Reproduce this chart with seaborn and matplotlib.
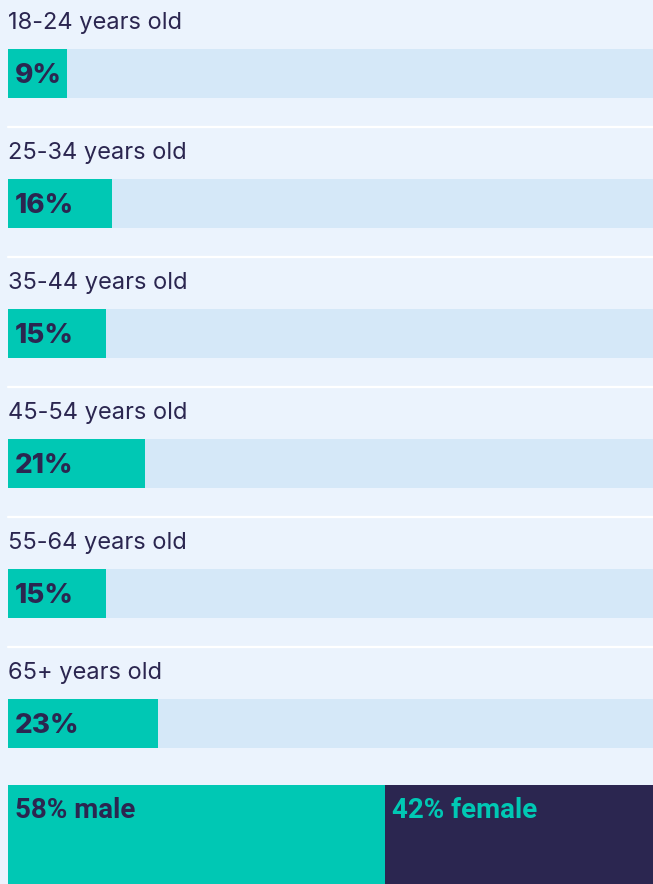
import matplotlib
matplotlib.use('Agg')
import matplotlib.pyplot as plt
from matplotlib.lines import Line2D
import seaborn as sns
import pandas as pd

# --- data ---
age_groups = ['18-24 years old', '25-34 years old', '35-44 years old',
              '45-54 years old', '55-64 years old', '65+ years old']
age_share = [9, 16, 15, 21, 15, 23]
gender_labels = ['male', 'female']
gender_share = [58, 42]

# --- colours ---
BG = '#EBF3FD'
TRACK = '#D5E8F8'
TEAL = '#00C8B4'
NAVY = '#2B2650'

W, H = 653, 884
TRACK_W = 650  # 100% scale, runs a little past the right edge
sns.set_theme(style='white')
plt.rcParams['font.family'] = ['Inter', 'DejaVu Sans']

fig = plt.figure(figsize=(W / 100, H / 100), dpi=100, facecolor=BG)


def px_axes(x, y, w, h):
    # axes placed in pixel units measured from the top-left corner
    ax = fig.add_axes([x / W, 1 - (y + h) / H, w / W, h / H])
    ax.set_facecolor(BG)
    return ax


def fy(y):
    return 1 - y / H


ROW = 130
for i, (label, val) in enumerate(zip(age_groups, age_share)):
    top = 49 + ROW * i
    ax = px_axes(8, top, TRACK_W, 49)
    row = pd.DataFrame({'group': [label], 'share': [val], 'full': [100]})
    sns.barplot(data=row, x='full', y='group', orient='h', color=TRACK,
                width=1, saturation=1, linewidth=0, ax=ax)
    sns.barplot(data=row, x='share', y='group', orient='h', color=TEAL,
                width=1, saturation=1, linewidth=0, ax=ax)
    ax.set_xlim(0, 100)
    ax.set_axis_off()

    fig.text(8 / W, fy(23.5 + ROW * i), label, fontsize=17, color=NAVY,
             ha='left', va='center')
    fig.text(15 / W, fy(top + 27), f'{val}%', fontsize=20, fontweight='heavy',
             color=NAVY, ha='left', va='center')
    if i < len(age_groups) - 1:
        sep = fy(127 + ROW * i)
        fig.add_artist(Line2D([8 / W, 1], [sep, sep], color='white', lw=1.6))

# --- gender split ---
gax = px_axes(8, 785, TRACK_W, 99)
gdf = pd.DataFrame({'k': ['gender'], 'male': [gender_share[0]],
                    'total': [gender_share[0] + gender_share[1]]})
sns.barplot(data=gdf, x='total', y='k', orient='h', color=NAVY,
            width=1, saturation=1, linewidth=0, ax=gax)
sns.barplot(data=gdf, x='male', y='k', orient='h', color=TEAL,
            width=1, saturation=1, linewidth=0, ax=gax)
gax.set_xlim(0, 100)
gax.set_axis_off()

cond = ['Roboto', 'DejaVu Sans']
fig.text(15 / W, fy(811), f'{gender_share[0]}% {gender_labels[0]}',
         fontsize=20, fontweight='bold', color=NAVY, family=cond,
         ha='left', va='center')
split_x = 8 + TRACK_W * gender_share[0] / 100
fig.text((split_x + 7) / W, fy(811), f'{gender_share[1]}% {gender_labels[1]}',
         fontsize=20, fontweight='bold', color=TEAL, family=cond,
         ha='left', va='center')

fig.savefig('out.png', dpi=100, facecolor=BG)
